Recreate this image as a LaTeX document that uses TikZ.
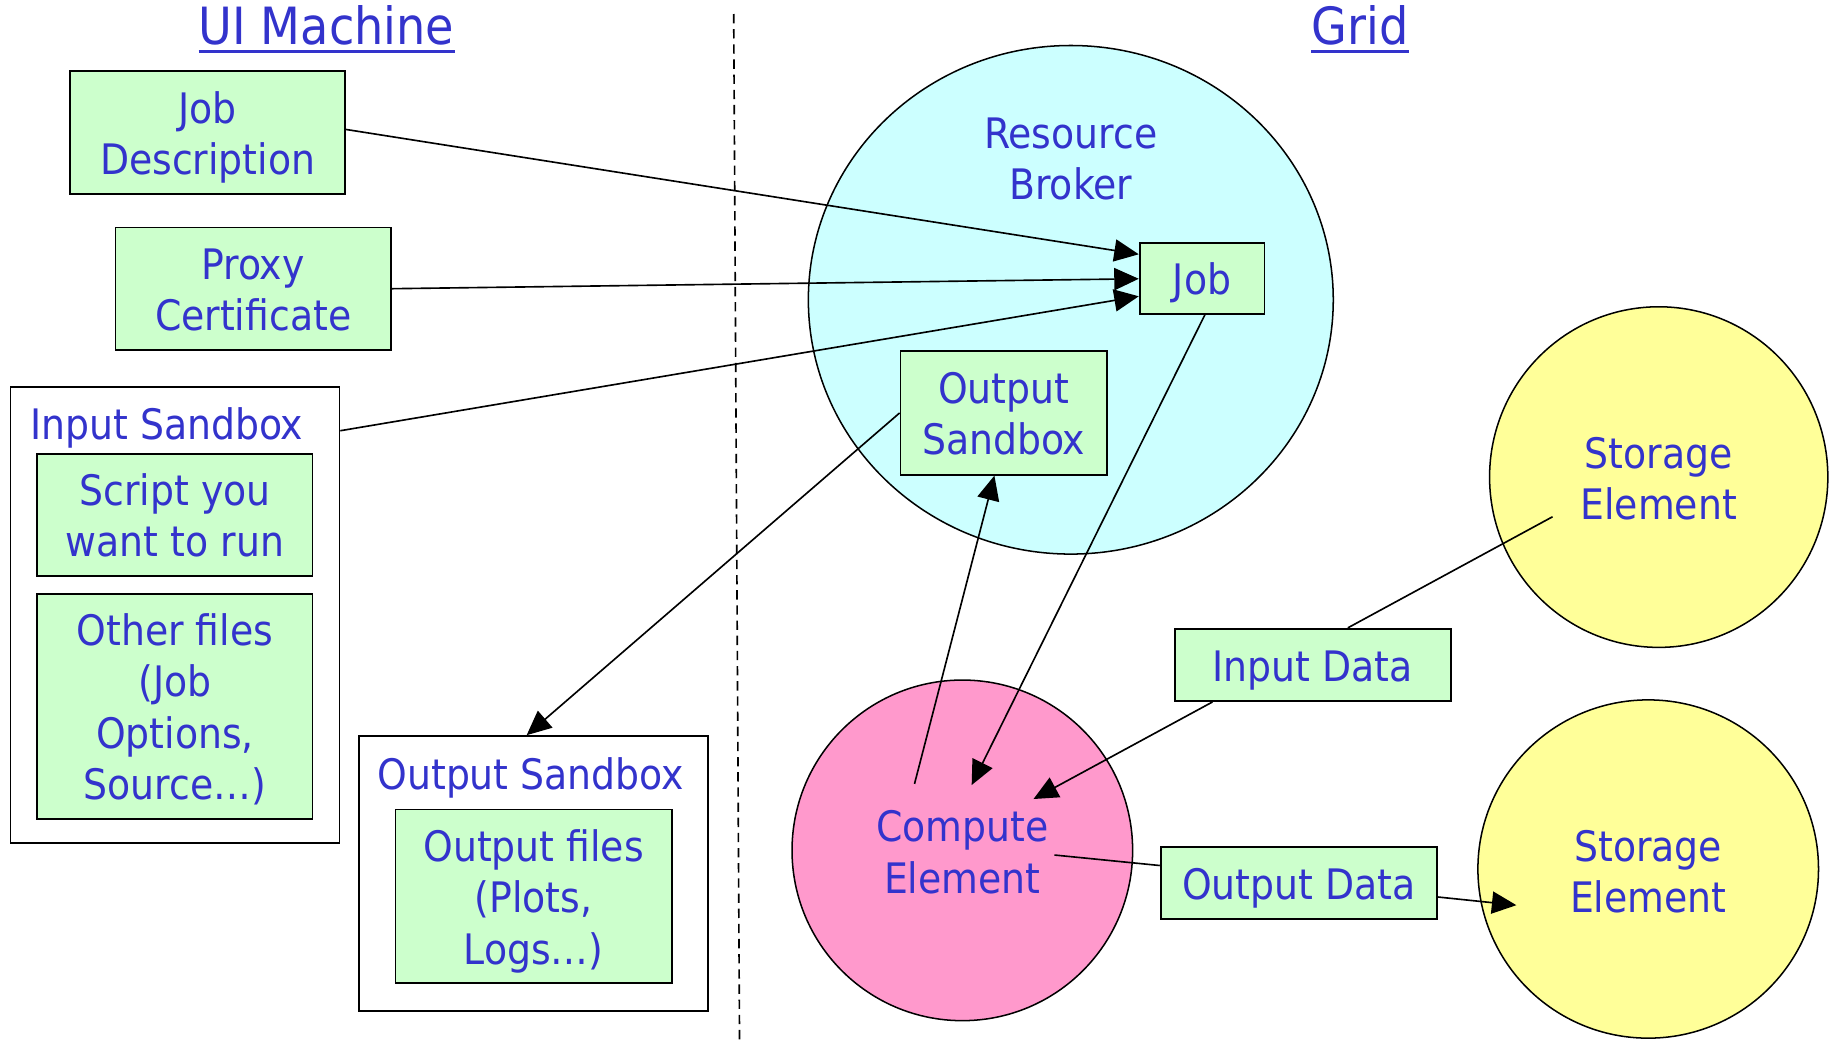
\documentclass[tikz,border=0pt]{standalone}
\usepackage{fontspec}
\setmainfont{DejaVu Sans Condensed}
\usetikzlibrary{arrows.meta,shapes.geometric}
\definecolor{txtblue}{HTML}{3333CC}
\definecolor{boxgreen}{HTML}{CCFFCC}
\definecolor{rbcyan}{HTML}{CCFFFF}
\definecolor{seyellow}{HTML}{FFFF99}
\definecolor{cepink}{HTML}{FF99CC}
\tikzset{
  lbl/.style={text=txtblue, font=\fontsize{36}{44}\selectfont, align=center, inner sep=0pt},
  title/.style={text=txtblue, font=\fontsize{44}{50}\selectfont, inner sep=0pt, anchor=base},
  gbox/.style={draw, line width=1.5pt, fill=boxgreen, text=txtblue,
    font=\fontsize{36}{44}\selectfont, align=center, inner sep=0pt, text depth=9pt},
  lines1/.style={text height=37pt},
  lines2/.style={text height=81pt},
  lines3/.style={text height=125pt},
  lines4/.style={text height=169pt},
  frame/.style={draw, line width=1.5pt, fill=white, inner sep=0pt},
  blob/.style={draw, line width=1.3pt, ellipse, inner sep=0pt},
  conn/.style={line width=1.4pt},
  arr/.style={conn, -{Triangle[length=21pt,width=19pt]}},
}
\begin{document}
\begin{tikzpicture}[x=1pt,y=-1pt]
\useasboundingbox[fill=white] (0,0) rectangle (1568,892);

% headings
\node[title] (uim) at (280,38) {UI Machine};
\draw[txtblue, line width=3pt] ([yshift=-6pt]uim.base west) -- ([yshift=-6pt]uim.base east);
\node[title] (grid) at (1166,38) {Grid};
\draw[txtblue, line width=3pt] ([yshift=-6pt]grid.base west) -- ([yshift=-6pt]grid.base east);

% divider
\coordinate (divtop) at (629,12);
\coordinate (divbot) at (634,892);
\draw[line width=1.4pt, dash pattern=on 8pt off 5pt] (divtop) -- (divbot);

% UI machine side
\node[gbox, lines2, minimum width=236pt, minimum height=105pt] (jd) at (178,113.5) {Job\\Description};
\node[gbox, lines2, minimum width=236pt, minimum height=105pt] (pc) at (217,247.5) {Proxy\\Certificate};

\node[frame, minimum width=282pt, minimum height=391pt] (insb) at (150,527.5) {};
\node[lbl] (insbt) at (143,367) {Input Sandbox};
\node[gbox, lines2, minimum width=236pt, minimum height=105pt] (script) at (150,441.5) {Script you\\want to run};
\node[gbox, lines4, minimum width=236pt, minimum height=193pt] (other) at (150,605.5) {Other files\\(Job\\Options,\\Source\dots)};

\node[frame, minimum width=299pt, minimum height=236pt] (osb) at (457.5,749) {};
\node[lbl] (osbt) at (455,667) {Output Sandbox};
\node[gbox, lines3, minimum width=237pt, minimum height=149pt] (ofiles) at (457.5,768.5) {Output files\\(Plots,\\Logs\dots)};

% grid side
\node[blob, fill=rbcyan, minimum width=450pt, minimum height=436pt] (rb) at (918,257) {};
\node[lbl] (rbt) at (918,136.5) {Resource\\Broker};
\node[gbox, lines1, minimum width=107pt, minimum height=61pt] (job) at (1030.5,238.5) {Job};
\node[gbox, lines2, minimum width=177pt, minimum height=106pt] (rbosb) at (860.5,354) {Output\\Sandbox};

\node[blob, fill=seyellow, minimum width=290pt, minimum height=292pt] (se1) at (1422,409) {};
\node[lbl] at (1422,410.5) {Storage\\Element};
\node[blob, fill=seyellow, minimum width=292pt, minimum height=290pt] (se2) at (1413,745) {};
\node[lbl] at (1413,747.5) {Storage\\Element};
\node[blob, fill=cepink, minimum width=292pt, minimum height=292pt] (ce) at (825,729) {};
\node[lbl] at (825,730.5) {Compute\\Element};

\node[gbox, lines1, minimum width=237pt, minimum height=62pt] (indata) at (1125.5,570) {Input Data};
\node[gbox, lines1, minimum width=237pt, minimum height=62pt] (outdata) at (1113.5,757) {Output Data};

% connector end points inside the round elements
\coordinate (ceJob) at (833,673);
\coordinate (ceOut) at (784,672);
\coordinate (ceIn) at (886,685);
\coordinate (ceData) at (904,733);
\coordinate (se1Data) at (1331,443);
\coordinate (se2Data) at (1300,776);

% submission
\draw[arr] ([yshift=2.5pt]jd.east) -- ([yshift=20.5pt]job.west);
\draw[arr] (pc.east) -- ([yshift=-0.5pt]job.west);
\draw[arr] ([yshift=-38pt]insb.north east) -- ([yshift=-15.5pt]job.west);
\draw[arr] ([xshift=2.5pt]job.south) -- (ceJob);
\draw[arr] (ceOut) -- ([xshift=-8pt]rbosb.south);
\draw[arr] (rbosb.west) -- ([xshift=-6pt]osb.north);

% data flow
\draw[conn] (se1Data) -- ([xshift=30pt]indata.north);
\draw[arr] ([xshift=-86pt]indata.south) -- (ceIn);
\draw[conn] (ceData) -- ([yshift=15pt]outdata.west);
\draw[arr] ([yshift=-12pt]outdata.east) -- (se2Data);
\end{tikzpicture}
\end{document}
